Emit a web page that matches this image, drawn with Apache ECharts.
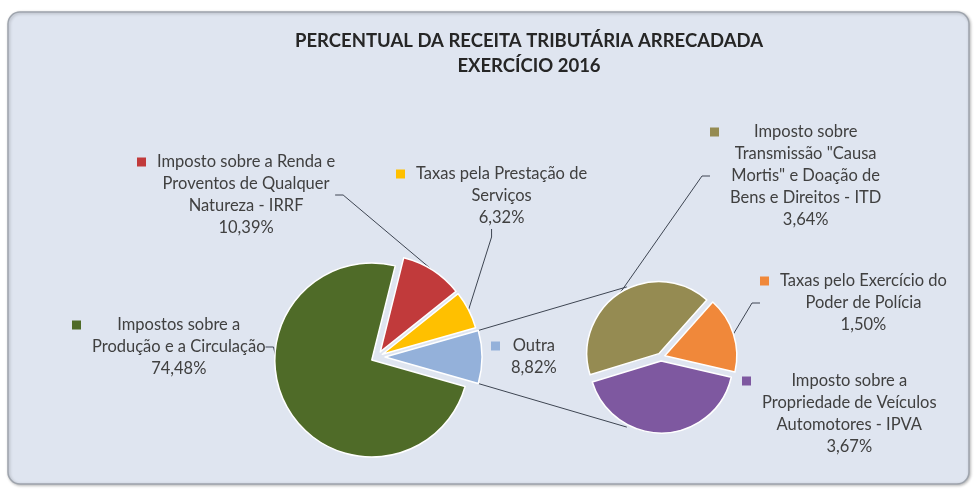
<!DOCTYPE html>
<html>
<head>
<meta charset="utf-8">
<script src="https://cdn.jsdelivr.net/npm/echarts@6/dist/echarts.min.js"></script>
<style>
  html, body { margin: 0; padding: 0; background: #ffffff; }
  #chart { width: 975px; height: 490px; }
</style>
</head>
<body>
<div id="chart"></div>
<script>
// Receita tributária arrecadada no exercício 2016, em % do total
const titleLines = ['PERCENTUAL DA RECEITA TRIBUTÁRIA ARRECADADA', 'EXERCÍCIO 2016'];

// Pizza principal (a fatia "Outra" é detalhada na pizza secundária)
const mainCategories = [
  'Impostos sobre a\nProdução e a Circulação',
  'Imposto sobre a Renda e\nProventos de Qualquer\nNatureza - IRRF',
  'Taxas pela Prestação de\nServiços',
  'Outra'
];
const mainValues = [74.48, 10.39, 6.32, 8.82];

// Pizza secundária: composição de "Outra"
const subCategories = [
  'Imposto sobre\nTransmissão "Causa\nMortis" e Doação de\nBens e Direitos - ITD',
  'Taxas pelo Exercício do\nPoder de Polícia',
  'Imposto sobre a\nPropriedade de Veículos\nAutomotores - IPVA'
];
const subValues = [3.64, 1.50, 3.67];

// ---- aparência ----
const FONT = 'Lato, "Open Sans", sans-serif';
const FONT_SIZE = 16.5;
const TEXT_COLOR = '#404040';
const LINE_COLOR = '#3e4552';
const mainColors = ['#4f6b28', '#c13a3b', '#ffc000', '#94b1da'];
const subColors = ['#958b52', '#f0883a', '#7e58a0'];
const mainLabelPos = [[72, 314], [137, 151], [396, 163], [491, 335]];
const subLabelPos = [[710, 121], [760, 270], [742, 370]];
const mainLeader = [true, true, true, false];
const subLeader = [true, true, false];
const mainExplode = [6, 6, 6, 8];
const subExplode = [4, 4, 4];

const MAIN_CENTER = [377, 357], MAIN_R = 97;
const SUB_CENTER = [661, 357], SUB_R = 72;
const SUB_START = 197;

const sum = a => a.reduce((s, v) => s + v, 0);
const rad = Math.PI / 180;
const mainTotal = sum(mainValues);
const outraIdx = 3;
// "Outra" centrada à direita (3 horas)
const outraHalf = mainValues[outraIdx] / mainTotal * 180;
const mainStart = 360 - outraHalf;

function pct(v) { return v.toFixed(2).replace('.', ',') + '%'; }

function labelText(name, value) {
  const lines = name.split('\n');
  const out = ['{k| }{g| }{t|' + lines[0] + '}'];
  for (let i = 1; i < lines.length; i++) out.push('{s| }{t|' + lines[i] + '}');
  out.push('{s| }{t|' + pct(value) + '}');
  return out.join('\n');
}

function richFor(color) {
  return {
    k: { width: 9, height: 9, backgroundColor: color, align: 'left', lineHeight: 22 },
    g: { width: 11, align: 'left', lineHeight: 22 },
    s: { width: 20, align: 'left', lineHeight: 22 },
    t: { fontFamily: FONT, fontSize: FONT_SIZE, color: TEXT_COLOR, lineHeight: 22, align: 'center' }
  };
}

function item(name, value, color, showLeader, visible) {
  if (!visible) {
    return {
      name, value,
      itemStyle: { color: 'rgba(0,0,0,0)', borderWidth: 0 },
      label: { show: false }, labelLine: { show: false }
    };
  }
  return {
    name, value,
    itemStyle: { color, borderColor: '#ffffff', borderWidth: 1.5 },
    label: {
      show: true,
      formatter: labelText(name, value),
      rich: richFor(color),
      fontFamily: FONT, fontSize: FONT_SIZE, color: TEXT_COLOR, lineHeight: 22
    },
    labelLine: { show: showLeader, length: 8, length2: 8, lineStyle: { color: LINE_COLOR, width: 1 } }
  };
}

function layoutFrom(pos) {
  return function (params) {
    const p = pos[params.dataIndex];
    return { x: p[0], y: p[1], align: 'left', verticalAlign: 'top' };
  };
}

// Mid angle (degrees) of each slice, going clockwise from startAngle
function midAngles(values, start) {
  const total = sum(values);
  let acc = 0;
  return values.map(v => {
    const m = start - (acc + v / 2) / total * 360;
    acc += v;
    return m;
  });
}

// One pie series per exploded slice: the slice is pushed out along its bisector
function explodedPies(prefix, center, radius, start, values, names, colors, leaders, explode, labelPos) {
  const mids = midAngles(values, start);
  return values.map((_, k) => ({
    type: 'pie',
    name: prefix + k,
    clockwise: true,
    avoidLabelOverlap: false,
    silent: true,
    animation: false,
    emphasis: { disabled: true },
    center: [
      center[0] + explode[k] * Math.cos(mids[k] * rad),
      center[1] - explode[k] * Math.sin(mids[k] * rad)
    ],
    radius: radius,
    startAngle: start,
    label: { position: 'outside' },
    labelLayout: layoutFrom(labelPos),
    data: values.map((v, i) => item(names[i], v, colors[i], leaders[i], i === k))
  }));
}

// Linhas de ligação entre a fatia "Outra" e a pizza secundária
const cornerX = MAIN_CENTER[0] + mainExplode[outraIdx] + MAIN_R * Math.cos(outraHalf * rad);
const cornerDy = MAIN_R * Math.sin(outraHalf * rad);
const linkAngle = 116 * rad, linkR = SUB_R + 6;
const subX = SUB_CENTER[0] + linkR * Math.cos(linkAngle);
const subDy = linkR * Math.sin(linkAngle);

const chart = echarts.init(document.getElementById('chart'), null, { renderer: 'canvas' });
chart.setOption({
  backgroundColor: '#ffffff',
  animation: false,
  graphic: [
    {
      type: 'rect', z: 0,
      shape: { x: 8, y: 12, width: 961, height: 472, r: 12 },
      style: {
        fill: '#dfe5f0', stroke: '#9ea4ad', lineWidth: 1.5,
        shadowBlur: 3, shadowColor: 'rgba(0,0,0,0.25)', shadowOffsetX: 1, shadowOffsetY: 1
      }
    },
    {
      type: 'text', z: 3,
      x: 529, y: 29,
      style: {
        text: titleLines.join('\n'),
        align: 'center', verticalAlign: 'top',
        font: 'bold 18.5px ' + FONT, lineHeight: 25, fill: '#262626'
      }
    },
    {
      type: 'line', z: 1,
      shape: { x1: cornerX, y1: MAIN_CENTER[1] - cornerDy, x2: subX, y2: SUB_CENTER[1] - subDy },
      style: { stroke: LINE_COLOR, lineWidth: 1 }
    },
    {
      type: 'line', z: 1,
      shape: { x1: cornerX, y1: MAIN_CENTER[1] + cornerDy, x2: subX, y2: SUB_CENTER[1] + subDy },
      style: { stroke: LINE_COLOR, lineWidth: 1 }
    }
  ],
  series: [].concat(
    explodedPies('principal', MAIN_CENTER, MAIN_R, mainStart, mainValues, mainCategories,
      mainColors, mainLeader, mainExplode, mainLabelPos),
    explodedPies('secundaria', SUB_CENTER, SUB_R, SUB_START, subValues, subCategories,
      subColors, subLeader, subExplode, subLabelPos)
  )
});
</script>
</body>
</html>
